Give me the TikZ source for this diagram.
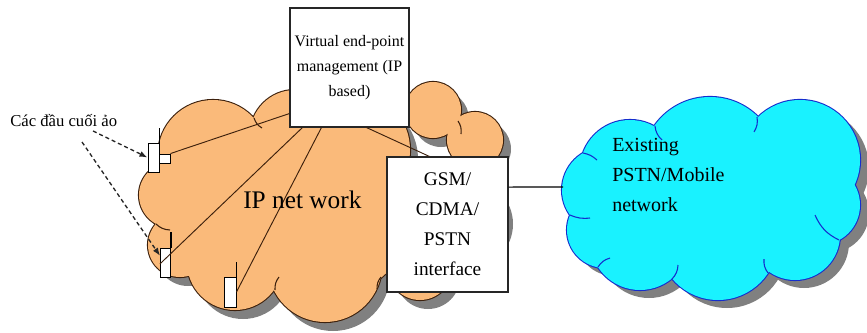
\documentclass[tikz,border=0pt]{standalone}
\usepackage{fontspec}
\setmainfont{Liberation Serif}
\usetikzlibrary{arrows.meta,calc}
\definecolor{peach}{RGB}{250,186,122}
\definecolor{peachline}{RGB}{60,32,12}
\definecolor{skycyan}{RGB}{25,242,255}
\definecolor{skyline}{RGB}{20,45,205}
\definecolor{cloudshadow}{RGB}{128,128,128}
\definecolor{wire}{RGB}{60,32,12}
\tikzset{
  box/.style={draw=black!85, fill=white, line width=0.8pt, inner sep=0pt, align=center},
  handset/.style={draw=black, fill=white, line width=0.7pt, inner sep=0pt},
  wireline/.style={draw=wire, line width=0.7pt},
  pointer/.style={draw=black!85, line width=1pt, dash pattern=on 3pt off 2.2pt,
    -{Latex[length=6pt,width=4.5pt]}},
  peacharc/.style={draw=peachline, line width=0.8pt},
  skyarc/.style={draw=skyline, line width=0.8pt},
}
% lobes of the two clouds: x/y/radius in pixel units
\newcommand\peachlobes{213/155/55, 295/135/45, 350/150/60, 433/110/28, 475/140/28,
  460/215/45, 420/268/32, 325/265/57, 235/262/48, 180/245/32, 172/195/33,
  320/205/95, 215/210/45}
\newcommand\skylobes{630/170/50, 710/165/68, 800/160/60, 820/205/40, 795/235/45,
  718/240/60, 640/240/50, 605/230/38, 605/190/43, 715/200/70}
\begin{document}
\begin{tikzpicture}[x=0.75pt,y=-0.75pt]
\useasboundingbox (0,0) rectangle (867,332);

% ---- IP network cloud ----
\foreach \cx/\cy/\r in \peachlobes
  \fill[cloudshadow] (\cx+8,\cy+9) circle[radius=\r*0.75pt];
\foreach \cx/\cy/\r in \peachlobes
  \draw[peachline, line width=1.6pt] (\cx,\cy) circle[radius=\r*0.75pt];
\foreach \cx/\cy/\r in \peachlobes
  \fill[peach] (\cx,\cy) circle[radius=\r*0.75pt];
\draw[peacharc] (275,290) to[bend left=20] (279,277);
\draw[peacharc] (381,277) to[bend right=20] (377,289);
\draw[peacharc] (254,118) to[bend right=20] (262,128);
\draw[peacharc] (458,121) to[bend left=20] (461,134);
\draw[peacharc] (156,224) to[bend right=20] (170,230);

% ---- PSTN / mobile cloud ----
\foreach \cx/\cy/\r in \skylobes
  \fill[cloudshadow] (\cx+9,\cy+8) circle[radius=\r*0.75pt];
\foreach \cx/\cy/\r in \skylobes
  \draw[skyline, line width=1.6pt] (\cx,\cy) circle[radius=\r*0.75pt];
\foreach \cx/\cy/\r in \skylobes
  \fill[skycyan] (\cx,\cy) circle[radius=\r*0.75pt];
\draw[skyarc] (655,126) to[bend right=20] (662,140);
\draw[skyarc] (757,117) to[bend left=20] (754,132);
\draw[skyarc] (839,240) to[bend left=20] (815,215);
\draw[skyarc] (768,273) to[bend left=20] (764,259);
\draw[skyarc] (672,279) to[bend right=20] (678,265);
\draw[skyarc] (598,267) to[bend left=20] (610,258);
\draw[skyarc] (570,215) to[bend right=15] (590,218);
\draw[skyarc] (583,153) to[bend left=15] (597,160);

% ---- boxes ----
\node[box, minimum width=89.25pt, minimum height=89.25pt,
      font=\fontsize{12pt}{18.75pt}\selectfont] (vbox) at (349.5,67.5)
  {Virtual end-point\\management (IP\\based)};
\node[box, minimum width=90.75pt, minimum height=101.25pt,
      font=\fontsize{14.5pt}{22.5pt}\selectfont] (gsm) at (447.5,224.5)
  {GSM/\\CDMA/\\PSTN\\interface};

% ---- handsets ----
\node[handset, minimum width=8.25pt, minimum height=21.75pt] (t1) at (153.5,157.5) {};
\node[handset, minimum width=8.25pt, minimum height=6.75pt] (t1s) at (164.5,158.5) {};
\node[handset, minimum width=7.5pt, minimum height=21.75pt] (t2) at (165.5,262.5) {};
\node[handset, minimum width=9pt, minimum height=22.5pt] (t3) at (230,292) {};
\draw[line width=0.8pt] (t1.north east) -- ++(0,-15);
\draw[line width=0.8pt] (t2.north east) -- ++(0,-16);
\draw[line width=0.8pt] (t3.north east) -- ++(0,-15);

% ---- wires ----
\coordinate (vA) at ([yshift=10.5pt]vbox.south west);
\coordinate (vB) at ([xshift=9.75pt]vbox.south west);
\coordinate (vC) at ([xshift=24pt]vbox.south west);
\coordinate (vD) at ([xshift=57.75pt]vbox.south west);
\coordinate (gD) at ([xshift=32.25pt]gsm.north west);
\coordinate (gE) at ([yshift=28.1pt]gsm.east);
\coordinate (skyedge) at (563,187);
\draw[wireline] (vA) -- (t1s.north east);
\draw[wireline] (vB) -- ([yshift=-1pt]t2.west);
\draw[wireline] (vC) -- (t3.east);
\draw[wireline] (vD) -- (gD);
\draw[line width=0.8pt, black] (gE) -- (skyedge);

% ---- labels ----
\node[font=\fontsize{19pt}{22pt}\selectfont, anchor=base west, inner sep=0pt]
  (ipnet) at (243,208) {IP net work};
\node[font=\fontsize{15pt}{22.5pt}\selectfont, align=left, anchor=north west, inner sep=0pt]
  (pstn) at (612,138) {Existing\\PSTN/Mobile\\network};
\node[font=\fontsize{12.5pt}{15pt}\selectfont, anchor=base west, inner sep=0pt]
  (lbl) at (10,126) {Các đầu cuối ảo};

% ---- pointers to the virtual terminals ----
\coordinate (p1) at (93,131);
\coordinate (p2) at (82,142);
\draw[pointer] (p1) -- (t1.west);
\draw[pointer] (p2) -- ([yshift=5pt]t2.west);
\end{tikzpicture}
\end{document}
